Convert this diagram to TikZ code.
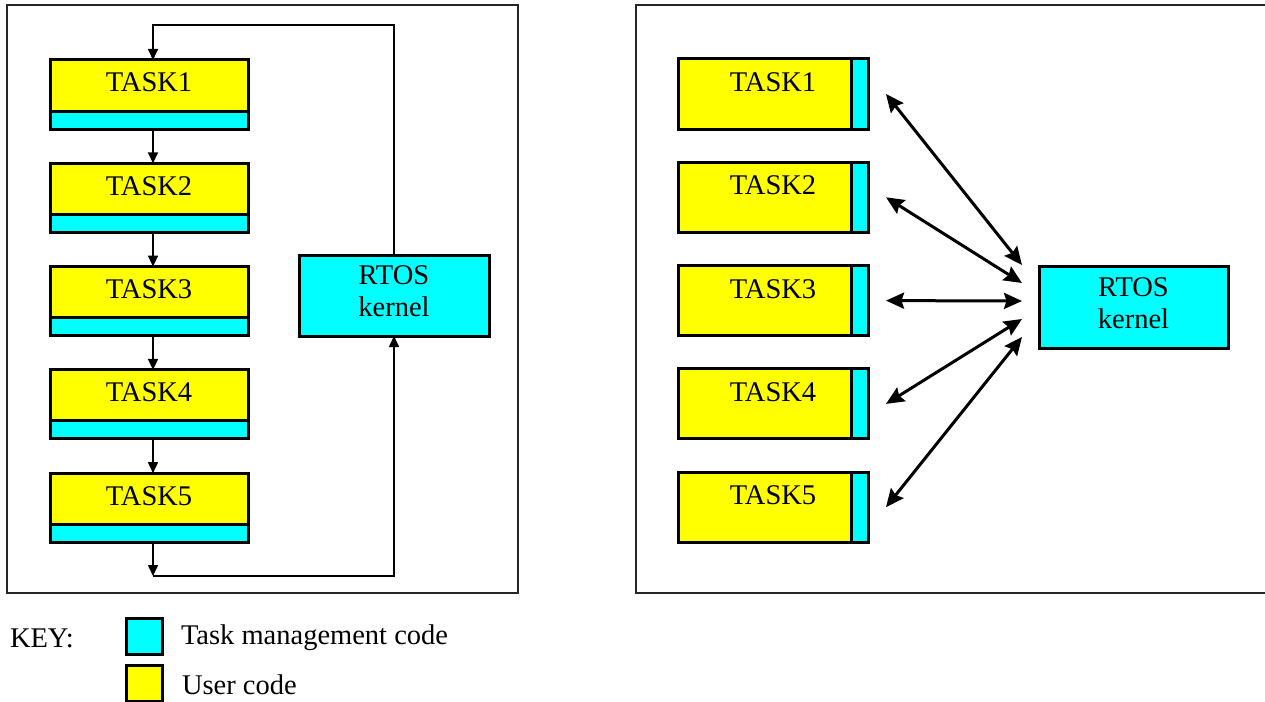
\documentclass[tikz,border=0pt]{standalone}
\usepackage{fontspec}
\setmainfont{Liberation Serif}
\usetikzlibrary{arrows.meta,calc}
\definecolor{uyellow}{RGB}{255,255,0}
\definecolor{mcyan}{RGB}{0,255,255}
\begin{document}
\begin{tikzpicture}[x=1pt,y=-1pt,
  every node/.style={font=\fontsize{28.5}{32}\selectfont, inner sep=0pt, outer sep=0pt},
  frame/.style={draw=black!85, line width=1.6pt},
  usertask/.style={draw, line width=3pt, fill=uyellow, text depth=24pt},
  mgmtbar/.style={draw, line width=3pt, fill=mcyan},
  kernelbox/.style={draw, line width=3pt, fill=mcyan, align=center, text depth=8pt},
  larrow/.style={line width=1.6pt, -{Triangle[length=11pt,width=10pt]}},
  rarrow/.style={line width=3pt, {Stealth[length=18pt,width=16pt,inset=2.5pt]}-{Stealth[length=18pt,width=16pt,inset=2.5pt]}},
  keybox/.style={draw, line width=3pt, minimum width=36pt, minimum height=36pt, anchor=north west}
]
\useasboundingbox (0,0) rectangle (1265,701);
% frames
\draw[frame] (7,5) rectangle (518,593);
\draw[frame] (1266,5) -- (636,5) -- (636,593) -- (1266,593);

% left panel tasks
\foreach \i in {1,...,5}{
  \pgfmathsetmacro{\yy}{60+103.3*(\i-1)}
  \node[usertask, minimum width=198pt, minimum height=69pt, anchor=north west] (L\i) at (50,\yy) {TASK\i};
  \node[mgmtbar, minimum width=198pt, minimum height=18pt, anchor=south] (L\i m) at (L\i.south) {};
}
\node[kernelbox, minimum width=190pt, minimum height=81pt] (RL) at (394,295.5) {RTOS\\kernel};

\foreach \i [evaluate=\i as \j using int(\i+1)] in {1,...,4}{
  \draw[larrow] ([xshift=4pt]L\i.south) -- ([xshift=4pt]L\j.north);
}
\coordinate (ltop) at (153,25);
\coordinate (lbot) at (153,576);
\draw[larrow] (RL.north) |- (ltop) -- ([xshift=4pt]L1.north);
\draw[larrow] ([xshift=4pt]L5.south) -- (lbot);
\draw[larrow] (lbot) -| (RL.south);

% right panel tasks
\foreach \i in {1,...,5}{
  \pgfmathsetmacro{\yy}{59+103.3*(\i-1)}
  \node[usertask, minimum width=190pt, minimum height=70pt, anchor=north west] (R\i) at (678,\yy) {TASK\i};
  \node[mgmtbar, minimum width=17pt, minimum height=70pt, anchor=north east] (R\i m) at (R\i.north east) {};
}
\node[kernelbox, minimum width=189pt, minimum height=82pt] (RK) at (1133.5,307) {RTOS\\kernel};

\foreach \i/\dy in {1/-42,2/-24,3/-6,4/12,5/30}{
  \coordinate (k\i) at ([xshift=-17pt,yshift=-\dy pt]RK.west);
  \draw[rarrow] ([xshift=18pt]R\i.east) -- (k\i);
}

% key
\node[anchor=west] (keylbl) at (10,638) {KEY:};
\node[keybox, fill=mcyan] (kc) at (126,618) {};
\node[keybox, fill=uyellow] (ky) at (126,665) {};
\node[anchor=west] (kctext) at (181,638) {Task management code};
\node[anchor=west] (kytext) at (182,685) {User code};
\end{tikzpicture}
\end{document}
